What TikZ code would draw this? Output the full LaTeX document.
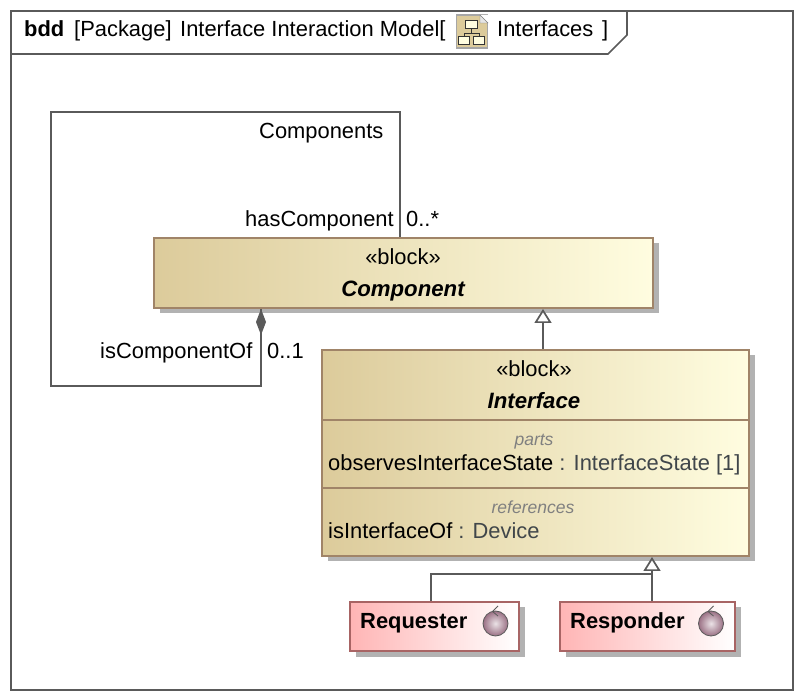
\documentclass[tikz,border=0pt]{standalone}
\usepackage{fontspec}
\setmainfont{Liberation Sans}
\usepackage{tikz}
\usetikzlibrary{arrows.meta,shadows}

\definecolor{blockdark}{HTML}{DCCB9B}
\definecolor{blocklight}{HTML}{FFFDE0}
\definecolor{blockline}{HTML}{A08468}
\definecolor{signaldark}{HTML}{FFB5B5}
\definecolor{signalline}{HTML}{A86464}
\definecolor{frameline}{HTML}{5A5A5A}
\definecolor{shadowgray}{HTML}{B2B2B2}
\definecolor{typetext}{HTML}{40464A}
\definecolor{ballcolor}{HTML}{9A7084}

\begin{document}
\begin{tikzpicture}[x=1pt,y=-1pt,
  blockbox/.style={draw=blockline,line width=2pt,left color=blockdark,right color=blocklight,
    drop shadow={shadow xshift=5.5pt,shadow yshift=-5.5pt,fill=shadowgray,opacity=1},
    minimum width=#1,inner sep=0pt},
  signalbox/.style={draw=signalline,line width=2pt,left color=signaldark,right color=white,
    drop shadow={shadow xshift=5.5pt,shadow yshift=-5.5pt,fill=shadowgray,opacity=1},
    minimum width=#1,minimum height=49pt,inner sep=0pt},
  edge/.style={draw=frameline,line width=1.7pt},
  gen/.style={edge,-{Triangle[open,fill=white,length=14pt,width=17pt,line width=1.7pt]}},
  comp/.style={edge,{Diamond[fill=frameline,length=26pt,width=10pt]}-},
  lab/.style={font=\fontsize{21.9}{24}\selectfont,inner sep=0pt,anchor=base west,yshift=-.8pt},
  stereo/.style={lab,anchor=base},
  title/.style={lab,anchor=base,font=\fontsize{22.2}{24}\selectfont\bfseries\itshape},
  head/.style={lab,font=\fontsize{21.9}{24}\selectfont\bfseries},
  keyword/.style={lab,anchor=base,font=\fontsize{17.5}{19}\selectfont\itshape,text=gray},
  ball/.style={circle,draw=frameline,line width=.8pt,inner sep=0pt,minimum size=25pt,
    inner color=white!80!ballcolor,outer color=ballcolor,shading=radial},
  treebox/.style={draw=black!80,line width=1pt,fill=blocklight,inner sep=0pt}]
\path[use as bounding box] (0,0) rectangle (804,700);
\fill[white] (0,0) rectangle (804,700);

% frame and tab
\node[draw=frameline,line width=1.7pt,minimum width=782pt,minimum height=679pt,inner sep=0pt] (frame) at (402,350.5) {};
\coordinate (tabstart) at (11,54);
\coordinate (tabend) at (627,11);
\draw[edge] (tabstart) -- (608,54) -- (627,35) -- (tabend);
\node[head] (bdd) at (24,36) {bdd};
\node[lab] (kind) at (74,36) {[Package]};
\node[lab] (name) at (180,36) {Interface Interaction Model[};
\node[lab] (pkg) at (497,36) {Interfaces};
\node[lab] (close) at (602,36) {]};

% package icon
\node[draw=gray!70,fill=blockdark,line width=1.5pt,minimum width=31pt,minimum height=33pt,inner sep=0pt] (pkgicon) at (472,31.5) {};
\fill[white] (480,15) -- (488,15) -- (488,23) -- cycle;
\draw[gray,fill=white!80!gray] (480,15) -- (480,23) -- (488,23) -- cycle;
\node[treebox,minimum width=12pt,minimum height=8pt] (icontop) at (471,25) {};
\node[treebox,minimum width=11pt,minimum height=8pt] (iconleft) at (464,41) {};
\node[treebox,minimum width=11pt,minimum height=8pt] (iconright) at (479,41) {};
\draw[line width=1pt,black!80] (icontop.south) -- +(0,4) -| (iconleft.north) (icontop.south) -- +(0,4) -| (iconright.north);

% blocks
\node[blockbox=499pt,minimum height=70pt] (component) at (403.5,273) {};
\node[stereo] (compstereo) at (403,264) {«block»};
\node[title] (comptitle) at (403,296) {Component};
\node[blockbox=427pt,minimum height=206pt] (interface) at (535.5,453) {};
\node[stereo] (intstereo) at (534,376) {«block»};
\node[title] (inttitle) at (534,408) {Interface};
\coordinate (parttop) at (322,420.5);
\coordinate (reftop) at (322,488.5);
\draw[draw=blockline,line width=2pt] (parttop) -- (parttop -| interface.east);
\draw[draw=blockline,line width=2pt] (reftop) -- (reftop -| interface.east);
\node[keyword] (parts) at (534,445) {parts};
\node[lab] (observes) at (328,470) {observesInterfaceState \textcolor{typetext}{: InterfaceState [1]}};
\node[keyword] (references) at (533,513) {references};
\node[lab] (isinterface) at (328,538) {isInterfaceOf \textcolor{typetext}{: Device}};

\node[signalbox=169pt] (requester) at (434.5,626.5) {};
\node[head] (reqtext) at (360,627.5) {Requester};
\node[ball] (reqball) at (495.5,623.5) {};
\draw[frameline,line width=.8pt] (498,606) -- (492.5,611.5) -- (498,616);
\node[signalbox=175pt] (responder) at (647.5,626.5) {};
\node[head] (restext) at (570,627.5) {Responder};
\node[ball] (resball) at (711,623.5) {};
\draw[frameline,line width=.8pt] (713.5,606) -- (708,611.5) -- (713.5,616);

% connectors
\coordinate (loopa) at (51,112);
\coordinate (loopb) at (51,386);
\draw[edge] ([xshift=-3.5]component.north) |- (loopa) -- (loopb) -| ([xshift=-142.5]component.south);
\draw[comp] ([xshift=-142.5]component.south) -- +(0,26);
\draw[gen] ([xshift=7.5]interface.north) -- ([xshift=139.5]component.south);
\coordinate (genjoin) at (652,574);
\draw[edge] ([xshift=-3.5]requester.north) |- (genjoin);
\draw[gen] ([xshift=4.5]responder.north) -- ([xshift=116.5]interface.south);

% end labels
\node[lab] (components) at (259,138) {Components};
\node[lab] (hascomp) at (245,226) {hasComponent};
\node[lab] (manyend) at (406,226) {0..*};
\node[lab] (iscomp) at (100,358) {isComponentOf};
\node[lab] (oneend) at (267,358) {0..1};
\end{tikzpicture}
\end{document}
